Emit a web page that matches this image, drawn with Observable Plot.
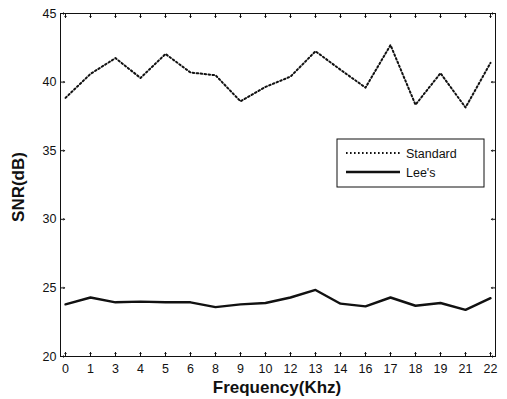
<!DOCTYPE html>
<html>
<head>
<meta charset="utf-8">
<script src="https://cdn.jsdelivr.net/npm/d3@7"></script>
<script src="https://cdn.jsdelivr.net/npm/@observablehq/plot@0.6"></script>
<style>
  html, body { margin: 0; padding: 0; background: #fff; }
  #chart { position: relative; width: 507px; height: 399px; }
</style>
</head>
<body>
<div id="chart"></div>
<script>
const freqLabels = ["0","1","3","4","5","6","8","9","10","12","13","14","16","17","18","19","21","22"];
const standard = [38.85, 40.6, 41.75, 40.3, 42.05, 40.7, 40.5, 38.6, 39.65, 40.4, 42.25, 40.9, 39.6, 42.7, 38.35, 40.65, 38.15, 41.4];
const lees = [23.8, 24.3, 23.95, 24.0, 23.95, 23.95, 23.6, 23.8, 23.9, 24.3, 24.85, 23.85, 23.65, 24.3, 23.7, 23.9, 23.4, 24.25];
const yTicks = [20, 25, 30, 35, 40, 45];
const seriesNames = ["Standard", "Lee's"];

const rows = [];
freqLabels.forEach((f, i) => {
  rows.push({f, v: standard[i], s: seriesNames[0]});
  rows.push({f, v: lees[i], s: seriesNames[1]});
});

const font = "'Liberation Sans', Arial, Helvetica, sans-serif";
const ink = "#111";
const dots = "1.6,2.4";

const plot = Plot.plot({
  width: 507,
  height: 399,
  marginLeft: 60,
  marginRight: 12,
  marginTop: 13,
  marginBottom: 43,
  style: {fontFamily: font, fontSize: "12.5px", color: ink, background: "#fff"},
  x: {type: "point", domain: freqLabels, padding: 0},
  y: {domain: [20, 45]},
  marks: [
    Plot.frame({stroke: ink, strokeWidth: 1}),
    Plot.axisX({anchor: "bottom", tickSize: 0, tickPadding: 8, label: null, fontSize: 12.5}),
    Plot.axisY({anchor: "left", ticks: yTicks, tickSize: 0, tickPadding: 4, label: null, fontSize: 12.5}),
    // inward tick marks on all four sides
    Plot.vector(freqLabels, {x: d => d, frameAnchor: "bottom", rotate: 0, length: 4, anchor: "start", stroke: ink, strokeWidth: 1}),
    Plot.vector(freqLabels, {x: d => d, frameAnchor: "top", rotate: 180, length: 4, anchor: "start", stroke: ink, strokeWidth: 1}),
    Plot.vector(yTicks, {y: d => d, frameAnchor: "left", rotate: 90, length: 4, anchor: "start", stroke: ink, strokeWidth: 1}),
    Plot.vector(yTicks, {y: d => d, frameAnchor: "right", rotate: 270, length: 4, anchor: "start", stroke: ink, strokeWidth: 1}),
    Plot.line(rows.filter(d => d.s === seriesNames[0]), {x: "f", y: "v", stroke: ink, strokeWidth: 2, strokeDasharray: dots}),
    Plot.line(rows.filter(d => d.s === seriesNames[1]), {x: "f", y: "v", stroke: ink, strokeWidth: 2.4})
  ]
});

document.getElementById("chart").appendChild(plot);

// axis labels and legend
const svg = d3.select(plot);
svg.append("text")
  .attr("transform", "translate(24,187) rotate(-90)")
  .attr("text-anchor", "middle")
  .attr("font-family", font)
  .attr("font-weight", "bold")
  .attr("font-size", 17)
  .attr("fill", ink)
  .text("SNR(dB)");
svg.append("text")
  .attr("x", 277).attr("y", 393)
  .attr("text-anchor", "middle")
  .attr("font-family", font)
  .attr("font-weight", "bold")
  .attr("font-size", 17)
  .attr("fill", ink)
  .text("Frequency(Khz)");

const lg = svg.append("g").attr("text-anchor", "start");
lg.append("rect").attr("x", 337).attr("y", 139).attr("width", 147).attr("height", 48)
  .attr("fill", "#fff").attr("stroke", ink).attr("stroke-width", 1);
lg.append("line").attr("x1", 346).attr("x2", 400).attr("y1", 153).attr("y2", 153)
  .attr("stroke", ink).attr("stroke-width", 2).attr("stroke-dasharray", dots);
lg.append("line").attr("x1", 346).attr("x2", 400).attr("y1", 172).attr("y2", 172)
  .attr("stroke", ink).attr("stroke-width", 2.4);
lg.append("text").attr("x", 406).attr("y", 157.5).attr("font-family", font).attr("font-size", 12.5).attr("fill", ink).text(seriesNames[0]);
lg.append("text").attr("x", 406).attr("y", 176.5).attr("font-family", font).attr("font-size", 12.5).attr("fill", ink).text(seriesNames[1]);
</script>
</body>
</html>
